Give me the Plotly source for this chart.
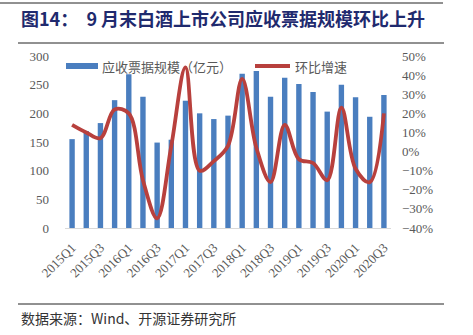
import plotly.graph_objects as go

# Quarterly notes receivable of listed baijiu companies (100m CNY) and QoQ growth (%)
quarters = [
    "2015Q1", "2015Q2", "2015Q3", "2015Q4",
    "2016Q1", "2016Q2", "2016Q3", "2016Q4",
    "2017Q1", "2017Q2", "2017Q3", "2017Q4",
    "2018Q1", "2018Q2", "2018Q3", "2018Q4",
    "2019Q1", "2019Q2", "2019Q3", "2019Q4",
    "2020Q1", "2020Q2", "2020Q3",
]
notes_receivable = [155, 169, 183, 223, 268, 229, 149, 154, 222, 200, 190, 196,
                    269, 274, 229, 262, 251, 237, 203, 250, 228, 194, 232]
qoq_growth = [14, 10, 7, 22, 20, -15, -35, 3, 44, -10, -5, 3,
              38, 2, -16, 14, -4, -6, -15, 23, -9, -16, 20]
shown_ticks = quarters[::2]

bar_name = "应收票据规模（亿元）"
line_name = "环比增速"
title_text = "图14：  9 月末白酒上市公司应收票据规模环比上升"
source_text = "数据来源：Wind、开源证券研究所"

W, H = 473, 335
L, R, T, B = 65, 82, 56, 107
BAR_COLOR = "#4A7EBF"
LINE_COLOR = "#B8403D"
SERIF = "Liberation Serif, 'Noto Sans CJK SC', serif"
CJK = "'Noto Sans CJK SC', 'Liberation Serif', serif"


def px(x):
    return (x - L) / (W - L - R)


def py(y):
    return 1 - (y - T) / (H - T - B)


fig = go.Figure()
fig.add_trace(go.Bar(
    x=quarters, y=notes_receivable, name=bar_name,
    marker=dict(color=BAR_COLOR, line=dict(width=0)),
    yaxis="y", showlegend=False,
))
fig.add_trace(go.Scatter(
    x=quarters, y=qoq_growth, name=line_name, mode="lines",
    line=dict(color=LINE_COLOR, width=3.8, shape="spline", smoothing=1.0),
    yaxis="y2", showlegend=False,
))

shapes = [
    # header rule, rule under the title, rule above the source line
    dict(type="line", xref="paper", yref="paper", x0=px(0), x1=px(443),
         y0=py(3), y1=py(3), line=dict(color="#222222", width=1)),
    dict(type="line", xref="paper", yref="paper", x0=px(18), x1=px(444),
         y0=py(43), y1=py(43), line=dict(color="#222222", width=1)),
    dict(type="line", xref="paper", yref="paper", x0=px(18), x1=px(444),
         y0=py(304), y1=py(304), line=dict(color="#222222", width=1)),
    # legend swatches
    dict(type="rect", xref="paper", yref="paper", x0=px(66), x1=px(98),
         y0=py(69), y1=py(63), fillcolor=BAR_COLOR, line=dict(width=0)),
    dict(type="line", xref="paper", yref="paper", x0=px(255), x1=px(290),
         y0=py(66), y1=py(66), line=dict(color=LINE_COLOR, width=3.8)),
]

annotations = [
    dict(text=f"<b>{title_text}</b>", xref="paper", yref="paper",
         x=px(19), y=py(18), xanchor="left", yanchor="middle", showarrow=False,
         font=dict(family=CJK, size=18, color="#1F2A6E")),
    dict(text=bar_name, xref="paper", yref="paper", x=px(100), y=py(66),
         xanchor="left", yanchor="middle", showarrow=False,
         font=dict(family=CJK, size=13, color="#595959")),
    dict(text=line_name, xref="paper", yref="paper", x=px(293), y=py(66),
         xanchor="left", yanchor="middle", showarrow=False,
         font=dict(family=CJK, size=13, color="#595959")),
    dict(text=source_text, xref="paper", yref="paper", x=px(19), y=py(318),
         xanchor="left", yanchor="middle", showarrow=False,
         font=dict(family=CJK, size=14, color="#333333")),
]

fig.update_layout(
    width=W, height=H,
    margin=dict(l=L, r=R, t=T, b=B, pad=0),
    paper_bgcolor="white", plot_bgcolor="white",
    bargap=0.62,
    font=dict(family=SERIF, color="#595959", size=13),
    xaxis=dict(
        type="category", tickmode="array", tickvals=shown_ticks, ticktext=shown_ticks,
        tickangle=-45, tickfont=dict(family=SERIF, size=13, color="#595959"),
        ticklabelstandoff=6,
        showline=True, linecolor="#D9D9D9", linewidth=1, ticks="",
        showgrid=False, range=[-0.5, len(quarters) - 0.5],
    ),
    yaxis=dict(
        range=[0, 300], dtick=50, showgrid=False, zeroline=False,
        showline=False, ticks="", ticklabelstandoff=15,
        tickfont=dict(family=SERIF, size=13, color="#595959"),
    ),
    yaxis2=dict(
        range=[-40, 50], dtick=10, overlaying="y", side="right",
        showgrid=False, zeroline=False, showline=False, ticks="",
        ticksuffix="%", ticklabelstandoff=10,
        tickfont=dict(family=SERIF, size=13, color="#595959"),
    ),
    shapes=shapes,
    annotations=annotations,
)

fig.write_html("out.html")
